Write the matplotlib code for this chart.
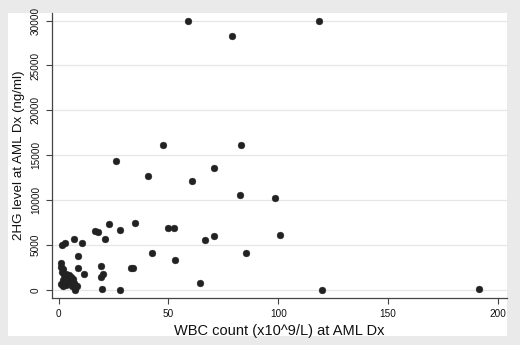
import matplotlib
matplotlib.use("Agg")
import matplotlib.pyplot as plt
from matplotlib.patches import Rectangle

# WBC count (x10^9/L) and 2HG level (ng/ml)
wbc = [58.8, 118.6, 79.1, 47.5, 83.0, 26.2, 70.9, 40.5, 60.6, 82.4, 98.5,
       22.8, 34.9, 16.7, 17.8, 28.0, 49.9, 52.5, 66.7, 70.9, 100.8, 21.0,
       7.1, 10.7, 1.6, 3.0,
       42.3, 85.2, 53.0, 8.7, 19.2, 8.6, 33.0, 34.0, 20.0, 19.2, 11.3,
       64.2, 19.7, 28.1, 7.5, 120.0, 191.5,
       1.0, 1.2, 1.8, 1.3, 2.2, 3.5, 4.5, 5.8, 6.3, 2.8, 1.8, 3.0, 4.8,
       5.5, 6.8, 7.5, 8.5, 1.2, 2.0, 3.5, 6.0, 7.2]
hg = [30000, 30000, 28250, 16100, 16100, 14370, 13620, 12660, 12140, 10540, 10280,
      7400, 7500, 6570, 6500, 6680, 6850, 6950, 5620, 5980, 6070, 5700,
      5700, 5220, 5050, 5200,
      4100, 4100, 3360, 3820, 2670, 2460, 2500, 2400, 1820, 1410, 1750,
      770, 120, 20, 20, 0, 110,
      3050, 2600, 2300, 2000, 1700, 1800, 1650, 1500, 1250, 1400, 1100, 950, 1100,
      850, 800, 600, 450, 700, 500, 600, 400, 200]

x_ticks = [0, 50, 100, 150, 200]
y_ticks = [0, 5000, 10000, 15000, 20000, 25000, 30000]

plt.rcParams['font.family'] = ['Liberation Sans', 'DejaVu Sans']

W, H = 520, 345
fig = plt.figure(figsize=(W / 100, H / 100), dpi=100, facecolor='#eaeaea')

# white graph region inside the grey frame
fig.patches.append(Rectangle((8 / W, (H - 336) / H), (506.5 - 8) / W, (336 - 13) / H,
                             transform=fig.transFigure, facecolor='white',
                             edgecolor='none', zorder=-10))

ax = fig.add_axes([52 / W, (H - 297.5) / H, (506.5 - 52) / W, (297.5 - 13) / H])
ax.set_zorder(1)
ax.set_facecolor('white')

ax.scatter(wbc, hg, s=24, color='#222222', edgecolors='#222222', linewidths=0.3, zorder=3)

ax.set_xlim(-3.05, 204.0)
ax.set_ylim(-835, 30846)
ax.set_xticks(x_ticks)
ax.set_yticks(y_ticks)
ax.set_xticklabels([str(t) for t in x_ticks])
ax.set_yticklabels([str(t) for t in y_ticks], rotation=90, va='center')

ax.yaxis.grid(True, color='#e6e6e6', linewidth=0.9)
ax.set_axisbelow(True)

for side in ['top', 'right']:
    ax.spines[side].set_visible(False)
for side in ['left', 'bottom']:
    ax.spines[side].set_color('#444444')
    ax.spines[side].set_linewidth(0.9)

ax.tick_params(direction='out', length=4, width=0.8, color='#444444',
               labelsize=7.2, labelcolor='#111111', pad=4)

ax.set_xlabel('WBC count (x10^9/L) at AML Dx', fontsize=10.5, color='#111111', labelpad=4)
ax.set_ylabel('2HG level at AML Dx (ng/ml)', fontsize=9.6, color='#111111', labelpad=4)

fig.savefig('out.png', dpi=100, facecolor=fig.get_facecolor())
